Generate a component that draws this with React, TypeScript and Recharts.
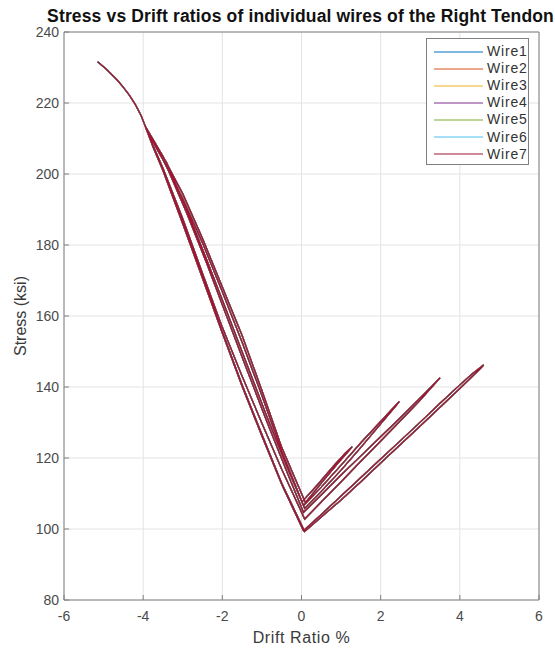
import { LineChart, Line, XAxis, YAxis, CartesianGrid, Label } from "recharts"

// drift ratio % / stress ksi, one load cycle each
const cycle1: [number, number][] = [
  [0.0, 107.5], [0.4, 112.4], [0.8, 117.6], [1.1, 121.3], [1.28, 123.2], [1.22, 122.4], [0.9, 118.3], [0.5, 112.9], [0.1, 107.4],
  [-0.5, 123.0], [-1.0, 139.0], [-1.5, 154.5], [-2.0, 168.2], [-2.5, 181.8], [-3.0, 194.4], [-3.5, 205.0], [-3.75, 209.6], [-3.95, 213.5],
  [-3.75, 209.0], [-3.5, 204.0], [-3.0, 193.0], [-2.5, 180.6], [-2.0, 166.8], [-1.5, 152.6], [-1.0, 137.6], [-0.5, 121.9], [0.05, 106.6],
]

const cycle2: [number, number][] = [
  [0.5, 111.8], [1.0, 118.0], [1.5, 124.3], [2.0, 130.3], [2.3, 133.9], [2.47, 135.9], [2.4, 134.9], [2.0, 129.6], [1.5, 123.0], [1.0, 116.6], [0.5, 110.6], [0.08, 105.8],
  [-0.4, 118.4], [-0.9, 132.4], [-1.4, 147.0], [-1.9, 161.6], [-2.4, 176.0], [-2.9, 190.0], [-3.4, 203.0], [-3.7, 208.8], [-3.95, 213.5],
  [-3.7, 208.2], [-3.4, 202.0], [-2.9, 189.0], [-2.4, 175.0], [-1.9, 160.2], [-1.4, 145.5], [-0.9, 131.0], [-0.4, 117.0], [0.05, 104.7],
]

const cycle3: [number, number][] = [
  [0.5, 109.6], [1.0, 115.2], [1.5, 120.6], [2.0, 126.0], [2.5, 131.4], [3.0, 136.9], [3.3, 140.3], [3.5, 142.6], [3.42, 141.6], [3.0, 136.3], [2.5, 130.5], [2.0, 124.8], [1.5, 119.1], [1.0, 113.3], [0.5, 107.6], [0.08, 102.8],
  [-0.5, 116.8], [-1.0, 129.8], [-1.5, 143.0], [-2.0, 156.8], [-2.5, 172.0], [-3.0, 187.4], [-3.5, 201.6], [-3.75, 208.0], [-3.95, 213.5],
  [-3.75, 207.6], [-3.5, 201.0], [-3.0, 186.0], [-2.5, 170.6], [-2.0, 155.2], [-1.5, 140.2], [-1.0, 126.2], [-0.5, 112.6], [0.05, 99.5],
]

const cycle4: [number, number][] = [
  [0.5, 104.1], [1.0, 109.3], [1.5, 114.5], [2.0, 119.7], [2.5, 124.9], [3.0, 130.1], [3.5, 135.4], [4.0, 140.6], [4.3, 143.6], [4.6, 146.2],
  [4.5, 145.0], [4.0, 139.6], [3.5, 134.3], [3.0, 129.0], [2.5, 123.8], [2.0, 118.6], [1.5, 113.3], [1.0, 108.2], [0.5, 103.4], [0.08, 99.3],
  [-0.5, 112.9], [-1.0, 126.6], [-1.5, 140.6], [-2.0, 155.6], [-2.5, 171.2], [-3.0, 186.6], [-3.5, 201.4], [-3.75, 207.8], [-3.95, 213.5],
  [-4.05, 216.4], [-4.2, 219.6], [-4.35, 222.2], [-4.5, 224.4], [-4.65, 226.4], [-4.8, 228.1], [-4.95, 229.7], [-5.15, 231.6],
]

const driftTicks = [-6, -4, -2, 0, 2, 4, 6]
const stressTicks = [80, 100, 120, 140, 160, 180, 200, 220, 240]

const wires = ["Wire1", "Wire2", "Wire3", "Wire4", "Wire5", "Wire6", "Wire7"]
const wireColors = ["#0072BD", "#D95319", "#EDB120", "#7E2F8E", "#77AC30", "#4DBEEE", "#A2142F"]

// the seven wires plot on top of each other
const path = [...cycle1, ...cycle2, ...cycle3, ...cycle4].map(([x, y]) => ({ x, y }))

const font = "'Liberation Sans', Arial, sans-serif"
const frame = "#808080"
const tickStyle = { fill: "#4a4a4a", fontSize: 14, fontFamily: font }

function WireLegend() {
  return (
    <div
      style={{
        position: "absolute",
        left: 426,
        top: 38,
        width: 103,
        height: 127,
        boxSizing: "border-box",
        border: `1px solid ${frame}`,
        background: "#fff",
        paddingTop: 4,
        fontFamily: font,
        fontSize: 14,
        color: "#333",
      }}
    >
      {wires.map((w, i) => (
        <div key={w} style={{ display: "flex", alignItems: "center", height: 17.1 }}>
          <svg width={57} height={10} style={{ flex: "none" }}>
            <line x1={7} x2={56} y1={5} y2={5} stroke={wireColors[i]} strokeWidth={1.2} />
          </svg>
          <span style={{ marginLeft: 3, letterSpacing: 0.8, lineHeight: "17px" }}>{w}</span>
        </div>
      ))}
    </div>
  )
}

export default function App() {
  return (
    <div style={{ position: "absolute", left: 0, top: 0, width: 555, height: 656, background: "#fff" }}>
      <LineChart width={555} height={656} margin={{ top: 31, right: 15, bottom: 26, left: 14 }}>
        <CartesianGrid stroke="#e3e3e3" />
        <XAxis
          dataKey="x"
          type="number"
          domain={[-6, 6]}
          ticks={driftTicks}
          allowDataOverflow
          height={30}
          tickSize={-5}
          tickMargin={16}
          tick={tickStyle}
          stroke={frame}
        >
          <Label
            content={({ viewBox }: any) => (
              <text
                x={viewBox.x + viewBox.width / 2}
                y={viewBox.y + 43}
                textAnchor="middle"
                fontFamily={font}
                fontSize={16}
                letterSpacing={0.6}
                fill="#3a3a3a"
              >
                Drift Ratio %
              </text>
            )}
          />
        </XAxis>
        <XAxis
          xAxisId="top"
          orientation="top"
          type="number"
          domain={[-6, 6]}
          ticks={driftTicks}
          allowDataOverflow
          height={1}
          tickSize={-5}
          tick={false}
          stroke={frame}
        >
          <Label
            content={({ viewBox }: any) => (
              <text
                x={viewBox.x + viewBox.width / 2 - 1}
                y={22}
                textAnchor="middle"
                fontFamily={font}
                fontSize={17.5}
                fontWeight="bold"
                letterSpacing={0.15}
                fill="#111"
              >
                Stress vs Drift ratios of individual wires of the Right Tendon
              </text>
            )}
          />
        </XAxis>
        <YAxis
          type="number"
          domain={[80, 240]}
          ticks={stressTicks}
          allowDataOverflow
          width={50}
          tickSize={-5}
          tickMargin={10}
          tick={tickStyle}
          stroke={frame}
        >
          <Label
            content={({ viewBox }: any) => {
              const cx = viewBox.x + 6
              const cy = viewBox.y + viewBox.height / 2
              return (
                <text
                  x={cx}
                  y={cy}
                  transform={`rotate(-90, ${cx}, ${cy})`}
                  textAnchor="middle"
                  dominantBaseline="central"
                  fontFamily={font}
                  fontSize={16}
                  fill="#3a3a3a"
                >
                  Stress (ksi)
                </text>
              )
            }}
          />
        </YAxis>
        <YAxis
          yAxisId="right"
          orientation="right"
          type="number"
          domain={[80, 240]}
          ticks={stressTicks}
          allowDataOverflow
          width={1}
          tickSize={-5}
          tick={false}
          stroke={frame}
        />
        {wires.map((w, i) => (
          <Line
            key={w}
            name={w}
            data={path}
            dataKey="y"
            type="linear"
            stroke={wireColors[i]}
            strokeWidth={1.3}
            dot={false}
            activeDot={false}
            isAnimationActive={false}
          />
        ))}
      </LineChart>
      <WireLegend />
    </div>
  )
}
